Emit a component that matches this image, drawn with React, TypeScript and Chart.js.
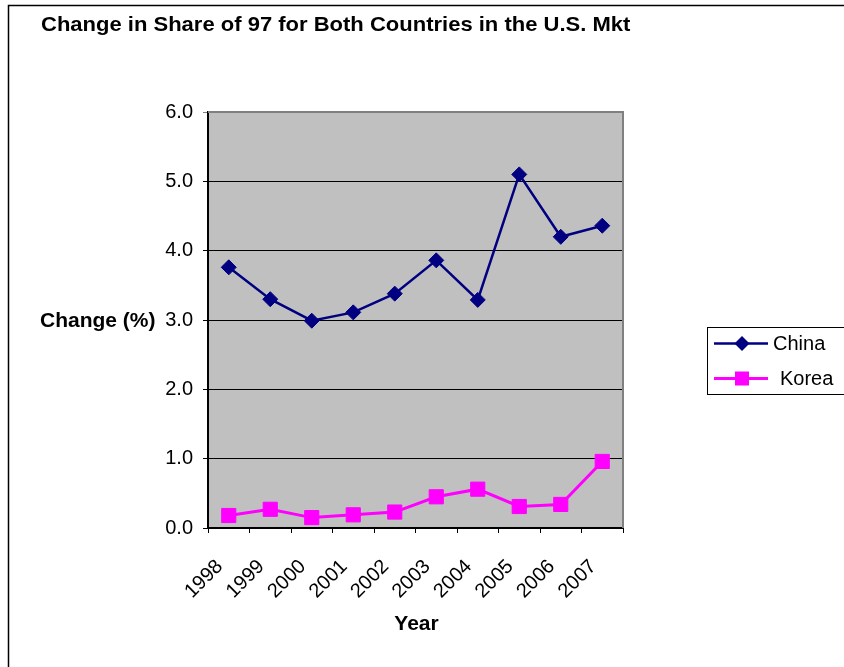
import React, { useEffect, useRef } from "react";
import { Chart, registerables } from "chart.js";

Chart.register(...registerables);

const years = ["1998", "1999", "2000", "2001", "2002", "2003", "2004", "2005", "2006", "2007"];
const chinaValues = [3.76, 3.3, 2.99, 3.11, 3.38, 3.86, 3.29, 5.1, 4.2, 4.36];
const koreaValues = [0.18, 0.27, 0.15, 0.19, 0.23, 0.45, 0.56, 0.31, 0.34, 0.96];
const chartTitle = "Change in Share of 97 for Both Countries in the U.S. Mkt";
const yTitle = "Change (%)";
const xTitle = "Year";

const NAVY = "#000080";
const MAGENTA = "#FF00FF";
const FONT = "'Liberation Sans', Arial, sans-serif";

const decorPlugin = {
  id: "decor",
  beforeDraw(chart: any) {
    const { ctx, chartArea: a } = chart;
    ctx.save();
    ctx.fillStyle = "#ffffff";
    ctx.fillRect(0, 0, chart.width, chart.height);
    // outer frame
    ctx.strokeStyle = "#000";
    ctx.lineWidth = 1.5;
    ctx.strokeRect(8.5, 5.5, chart.width + 20, chart.height + 20);
    // plot background
    ctx.fillStyle = "#C0C0C0";
    ctx.fillRect(a.left, a.top, a.right - a.left, a.bottom - a.top);
    ctx.restore();
  },
  afterDraw(chart: any) {
    const { ctx, chartArea: a } = chart;
    ctx.save();
    // plot border top/right gray
    ctx.strokeStyle = "#808080";
    ctx.lineWidth = 2;
    ctx.beginPath();
    ctx.moveTo(a.left, a.top);
    ctx.lineTo(a.right, a.top);
    ctx.lineTo(a.right, a.bottom);
    ctx.stroke();

    ctx.fillStyle = "#000";
    ctx.textBaseline = "alphabetic";
    ctx.textAlign = "left";
    ctx.font = `bold 21px ${FONT}`;
    ctx.save();
    ctx.translate(41, 31);
    ctx.scale(1.048, 1);
    ctx.fillText(chartTitle, 0, 0);
    ctx.restore();
    ctx.fillText(yTitle, 40, 327);
    ctx.textAlign = "center";
    ctx.fillText(xTitle, 416.5, 630);

    // legend
    ctx.strokeStyle = "#000";
    ctx.lineWidth = 1;
    ctx.strokeRect(707.5, 327.5, 200, 67);
    ctx.lineWidth = 2.5;
    ctx.strokeStyle = NAVY;
    ctx.beginPath();
    ctx.moveTo(714, 343.5);
    ctx.lineTo(768, 343.5);
    ctx.stroke();
    ctx.fillStyle = NAVY;
    ctx.beginPath();
    ctx.moveTo(742 - 7.5, 343.5);
    ctx.lineTo(742, 343.5 - 7.5);
    ctx.lineTo(742 + 7.5, 343.5);
    ctx.lineTo(742, 343.5 + 7.5);
    ctx.closePath();
    ctx.fill();
    ctx.strokeStyle = MAGENTA;
    ctx.lineWidth = 3;
    ctx.beginPath();
    ctx.moveTo(714, 378.5);
    ctx.lineTo(768, 378.5);
    ctx.stroke();
    ctx.fillStyle = MAGENTA;
    ctx.fillRect(742 - 7, 378.5 - 7, 14, 14);
    ctx.fillStyle = "#000";
    ctx.textAlign = "left";
    ctx.textBaseline = "middle";
    ctx.font = `20px ${FONT}`;
    ctx.fillText("China", 773, 344);
    ctx.fillText("Korea", 780, 379);
    ctx.restore();
  },
};

export default function App() {
  const ref = useRef<HTMLCanvasElement | null>(null);
  useEffect(() => {
    if (!ref.current) return;
    const chart = new Chart(ref.current, {
      type: "line",
      data: {
        labels: years,
        datasets: [
          {
            label: "China",
            data: chinaValues,
            borderColor: NAVY,
            backgroundColor: NAVY,
            borderWidth: 2.5,
            pointStyle: "rectRot",
            pointRadius: 7.5,
            pointBorderWidth: 1,
            tension: 0,
          },
          {
            label: "Korea",
            data: koreaValues,
            borderColor: MAGENTA,
            backgroundColor: MAGENTA,
            borderWidth: 3,
            pointStyle: "rect",
            pointRadius: 10,
            pointBorderWidth: 1,
            tension: 0,
          },
        ],
      },
      plugins: [decorPlugin],
      options: {
        responsive: false,
        animation: false,
        layout: { padding: { left: 0, top: 112, right: 221, bottom: 0 } },
        plugins: {
          legend: { display: false },
          title: { display: false },
          tooltip: { enabled: false },
        },
        scales: {
          x: {
            type: "category",
            offset: true,
            afterFit: (s: any) => {
              s.height = 139;
            },
            grid: {
              offset: true,
              drawOnChartArea: false,
              tickLength: 5,
              color: "#000",
              lineWidth: 1,
            },
            border: { display: true, color: "#000", width: 2 },
            ticks: {
              color: "#000",
              font: { family: FONT, size: 20 },
              maxRotation: 45,
              minRotation: 45,
              padding: 22,
              labelOffset: -9,
              autoSkip: false,
            },
          },
          y: {
            min: 0,
            max: 6,
            afterFit: (s: any) => {
              s.width = 208;
            },
            grid: {
              drawOnChartArea: true,
              tickLength: 5,
              color: (c: any) => (c.tick && c.tick.value === 6 ? "#808080" : "#000"),
              lineWidth: 1,
            },
            border: { display: true, color: "#000", width: 2 },
            ticks: {
              stepSize: 1,
              color: "#000",
              font: { family: FONT, size: 20 },
              padding: 10,
              callback: (v: any) => Number(v).toFixed(1),
            },
          },
        },
      },
    });
    return () => chart.destroy();
  }, []);
  return (
    <div style={{ position: "fixed", left: 0, top: 0, width: 844, height: 667 }}>
      <canvas ref={ref} width={844} height={667} style={{ width: 844, height: 667 }} />
    </div>
  );
}
